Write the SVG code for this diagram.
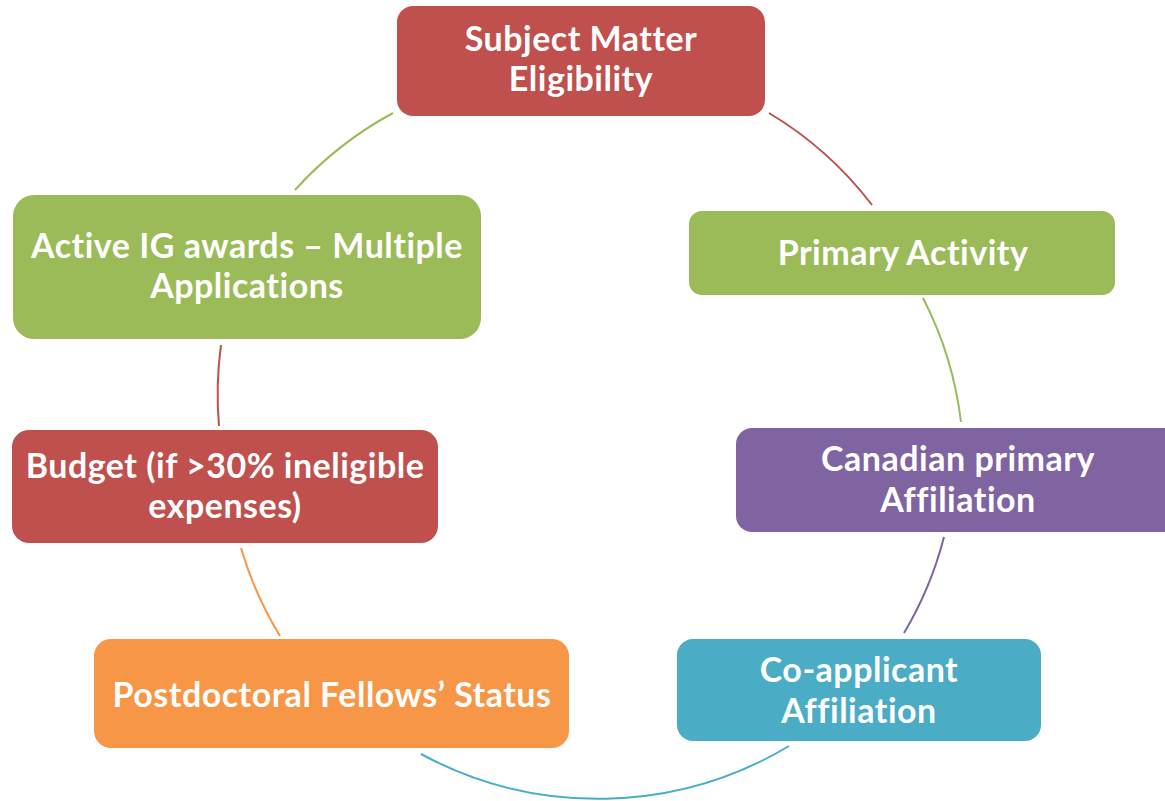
<svg xmlns="http://www.w3.org/2000/svg" width="1165" height="801" viewBox="0 0 1165 801">
<style>
.lbl{font-family:Lato,"Liberation Sans",sans-serif;font-weight:700;font-size:34px;letter-spacing:0.5px;fill:#ffffff;text-anchor:middle}
.con{fill:none;stroke-width:2}
.red{fill:#C0504D}.grn{fill:#9BBB59}.pur{fill:#8064A2}.tea{fill:#4BACC6}.org{fill:#F79646}
</style>
<rect width="1165" height="801" fill="#ffffff"/>
<g id="connectors">
<path class="con" stroke="#C0504D" d="M769,113 A365,365 0 0 1 872,205"/>
<path class="con" stroke="#9BBB59" d="M923,298 A365,365 0 0 1 961,422"/>
<path class="con" stroke="#8064A2" d="M944,537 A365,365 0 0 1 904,633"/>
<path class="con" stroke="#4BACC6" d="M789,746 A372,372 0 0 1 421,754"/>
<path class="con" stroke="#F79646" d="M280,636 A365,365 0 0 1 241,548"/>
<path class="con" stroke="#C0504D" d="M219,426 A365,365 0 0 1 221,345"/>
<path class="con" stroke="#9BBB59" d="M295,190 A365,365 0 0 1 393,113"/>
</g>
<g id="subject">
<rect class="red" x="397" y="6" width="368" height="110" rx="16"/>
<text class="lbl" x="581" y="51">Subject Matter</text>
<text class="lbl" x="581" y="91">Eligibility</text>
</g>
<g id="primary">
<rect class="grn" x="689" y="211" width="426" height="84" rx="13"/>
<text class="lbl" x="903" y="265">Primary Activity</text>
</g>
<g id="canadian">
<rect class="pur" x="736" y="428" width="445" height="104" rx="16"/>
<text class="lbl" x="958" y="471">Canadian primary</text>
<text class="lbl" x="958" y="512">Affiliation</text>
</g>
<g id="coapplicant">
<rect class="tea" x="677" y="639" width="364" height="102" rx="16"/>
<text class="lbl" x="859" y="682">Co-applicant</text>
<text class="lbl" x="859" y="723">Affiliation</text>
</g>
<g id="postdoc">
<rect class="org" x="94" y="639" width="475" height="109" rx="17"/>
<text class="lbl" x="332" y="707">Postdoctoral Fellows’ Status</text>
</g>
<g id="budget">
<rect class="red" x="12" y="430" width="426" height="113" rx="17"/>
<text class="lbl" x="225" y="478">Budget (if &gt;30% ineligible</text>
<text class="lbl" x="225" y="518">expenses)</text>
</g>
<g id="active">
<rect class="grn" x="13" y="195" width="468" height="144" rx="21"/>
<text class="lbl" x="247" y="258">Active IG awards – Multiple</text>
<text class="lbl" x="247" y="298">Applications</text>
</g>
</svg>
